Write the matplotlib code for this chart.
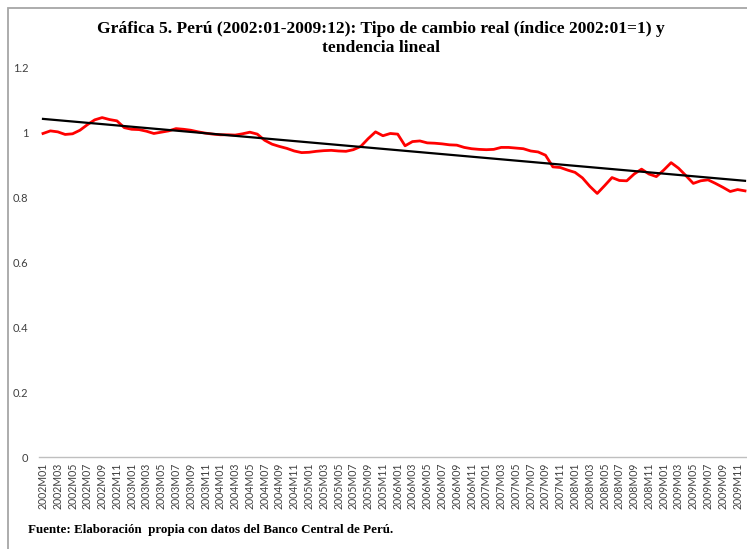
import numpy as np
import matplotlib
matplotlib.use("Agg")
import matplotlib.pyplot as plt
from matplotlib.patches import Rectangle

years = list(range(2002, 2010))
months = list(range(1, 13))
labels = [f"{y}M{m:02d}" for y in years for m in months]

tcr = [
    0.998, 1.006, 1.003, 0.995, 0.997, 1.008, 1.025, 1.040, 1.047, 1.041, 1.037, 1.016,
    1.011, 1.010, 1.005, 0.998, 1.002, 1.006, 1.013, 1.011, 1.008, 1.003, 0.999, 0.996,
    0.994, 0.994, 0.993, 0.997, 1.002, 0.996, 0.977, 0.965, 0.958, 0.952, 0.944, 0.939,
    0.940, 0.943, 0.945, 0.946, 0.944, 0.943, 0.948, 0.958, 0.982, 1.003, 0.991, 0.998,
    0.996, 0.960, 0.973, 0.975, 0.969, 0.968, 0.966, 0.963, 0.962, 0.955, 0.951, 0.949,
    0.948, 0.949, 0.955, 0.955, 0.953, 0.951, 0.944, 0.941, 0.931, 0.895, 0.893, 0.885,
    0.878, 0.861, 0.835, 0.813, 0.837, 0.862, 0.853, 0.852, 0.873, 0.888, 0.873, 0.865,
    0.885, 0.908, 0.891, 0.868, 0.844, 0.852, 0.855, 0.844, 0.832, 0.819, 0.825, 0.821,
]

# linear trend endpoints (2002M01, 2009M12)
trend_ends = [1.043, 0.852]

yticks = [0, 0.2, 0.4, 0.6, 0.8, 1, 1.2]
yticklabels = ["0", "0.2", "0.4", "0.6", "0.8", "1", "1.2"]

title = "Gráfica 5. Perú (2002:01-2009:12): Tipo de cambio real (índice 2002:01=1) y\ntendencia lineal"
footer = "Fuente: Elaboración  propia con datos del Banco Central de Perú."

W, H = 747, 549
fig = plt.figure(figsize=(W / 100, H / 100), dpi=100)
fig.patch.set_facecolor("white")

left = 39.3 / W
width = 709.4 / W
bottom = (H - 457) / H
top = (H - 68) / H
ax = fig.add_axes([left, bottom, width, top - bottom])

x = np.arange(len(tcr))
ax.plot(x, tcr, color="#ff0000", lw=2.0, solid_joinstyle="round", zorder=3)
ax.plot([x[0], x[-1]], trend_ends, color="black", lw=1.6, zorder=4)

ax.set_xlim(-0.5, len(tcr) - 0.5)
ax.set_ylim(0, 1.2)
ax.set_yticks(yticks)
ax.set_yticklabels(yticklabels)
ax.set_xticks(x[::2])
ax.set_xticklabels(labels[::2], rotation=90, fontsize=7.6, family="Lato", color="#404040")
for t in ax.get_yticklabels():
    t.set_fontsize(8)
    t.set_family("Lato")
    t.set_color("#404040")
ax.tick_params(axis="both", length=0)
ax.tick_params(axis="x", pad=4)
ax.tick_params(axis="y", pad=8)

for s in ["top", "right", "left"]:
    ax.spines[s].set_visible(False)
ax.spines["bottom"].set_color("#bfbfbf")
ax.spines["bottom"].set_linewidth(1.0)

fig.text(381 / W, 1 - 38.5 / H, title, ha="center", va="center",
         family="Liberation Serif", fontweight="bold", fontsize=12.6, linespacing=1.33)
fig.text(28 / W, 1 - 530 / H, footer, ha="left", va="center",
         family="Liberation Serif", fontweight="bold", fontsize=9.4)

border = Rectangle((8 / W, -0.1), 1.2, 1.1 - 8 / H, transform=fig.transFigure,
                   fill=False, edgecolor="#a6a6a6", lw=1.3, clip_on=False)
fig.patches.append(border)

fig.savefig("out.png", dpi=100, facecolor="white")
